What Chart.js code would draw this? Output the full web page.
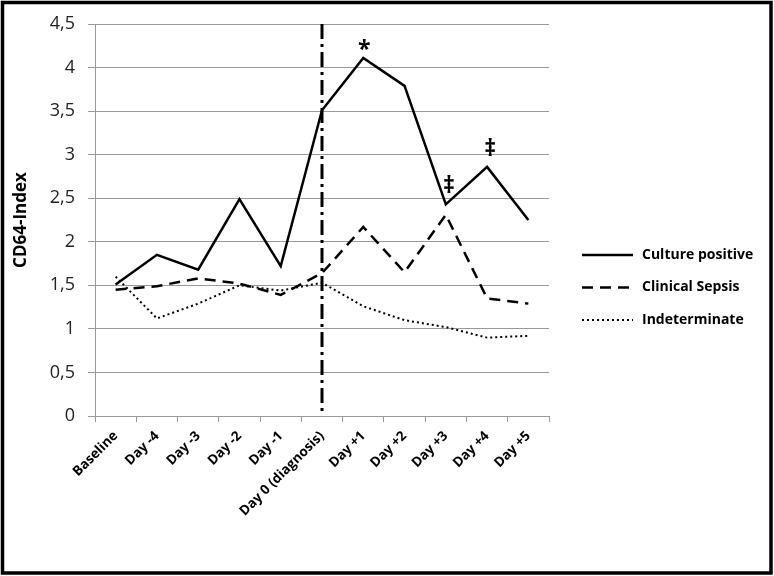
<!DOCTYPE html>
<html>
<head>
<meta charset="utf-8">
<script src="https://cdn.jsdelivr.net/npm/chart.js@4"></script>
<style>
  html, body { margin: 0; padding: 0; background: #fff; }
  canvas { display: block; }
</style>
</head>
<body>
<canvas id="cd64Chart" width="774" height="576"></canvas>
<script>
// data
const categories = ['Baseline', 'Day -4', 'Day -3', 'Day -2', 'Day -1', 'Day 0 (diagnosis)',
                    'Day +1', 'Day +2', 'Day +3', 'Day +4', 'Day +5'];
const culturePositive = [1.51, 1.85, 1.68, 2.49, 1.72, 3.51, 4.11, 3.79, 2.43, 2.86, 2.25];
const clinicalSepsis  = [1.45, 1.49, 1.58, 1.52, 1.39, 1.64, 2.17, 1.65, 2.31, 1.35, 1.29];
const indeterminate   = [1.60, 1.12, 1.29, 1.50, 1.44, 1.53, 1.26, 1.10, 1.02, 0.90, 0.92];
const seriesNames = ['Culture positive', 'Clinical Sepsis', 'Indeterminate'];
const yMin = 0, yMax = 4.5, yStep = 0.5;
const diagnosisIndex = 5;
// significance marks on the culture positive series
const markIndex  = [6, 8, 9];
const markSymbol = ['*', '\u2021', '\u2021'];

const FONT = "'Open Sans', 'DejaVu Sans', sans-serif";
const GRID = '#9a9a9a';

// frame, diagnosis line, marks and legend
const extras = {
    id: 'extras',
    afterDatasetsDraw(chart) {
        const ctx = chart.ctx;
        const area = chart.chartArea;
        const xs = chart.scales.x, ys = chart.scales.y;

        // dash-dot line at diagnosis
        const xd = xs.getPixelForValue(diagnosisIndex);
        ctx.save();
        ctx.strokeStyle = '#000';
        ctx.lineWidth = 3;
        ctx.setLineDash([15, 5, 3, 5]);
        ctx.beginPath();
        ctx.moveTo(xd, area.top);
        ctx.lineTo(xd, area.bottom);
        ctx.stroke();
        ctx.restore();

        // * and double daggers
        ctx.save();
        ctx.fillStyle = '#000';
        ctx.textAlign = 'center';
        ctx.textBaseline = 'bottom';
        markIndex.forEach((idx, i) => {
            const sym = markSymbol[i];
            const px = xs.getPixelForValue(idx);
            const py = ys.getPixelForValue(culturePositive[idx]);
            ctx.font = 'bold 23px ' + FONT;
            ctx.fillText(sym, px + (sym === '*' ? 1 : 3), py + (sym === '*' ? 4 : -6));
        });
        ctx.restore();

        // legend
        ctx.save();
        chart.data.datasets.forEach((ds, i) => {
            const y = 255 + i * 32.5;
            ctx.strokeStyle = '#000';
            ctx.lineWidth = ds.borderWidth;
            ctx.setLineDash(ds.borderDash || []);
            ctx.beginPath();
            ctx.moveTo(582, y);
            ctx.lineTo(633, y);
            ctx.stroke();
            ctx.setLineDash([]);
            ctx.fillStyle = '#000';
            ctx.font = 'bold 14px ' + FONT;
            ctx.textAlign = 'left';
            ctx.textBaseline = 'middle';
            ctx.fillText(ds.label, 642, y);
        });
        ctx.restore();

        // outer frame
        ctx.save();
        ctx.strokeStyle = '#000';
        ctx.lineWidth = 3.5;
        ctx.strokeRect(2.5, 2.5, 768.5, 570.5);
        ctx.restore();
    }
};

new Chart(document.getElementById('cd64Chart').getContext('2d'), {
    type: 'line',
    data: {
        labels: categories,
        datasets: [
            { label: seriesNames[0], data: culturePositive, borderColor: '#000',
              borderWidth: 2.5, borderDash: [], pointRadius: 0, tension: 0 },
            { label: seriesNames[1], data: clinicalSepsis, borderColor: '#000',
              borderWidth: 2.5, borderDash: [11, 7], pointRadius: 0, tension: 0 },
            { label: seriesNames[2], data: indeterminate, borderColor: '#000',
              borderWidth: 2, borderDash: [2, 3], pointRadius: 0, tension: 0 }
        ]
    },
    options: {
        responsive: false,
        animation: false,
        devicePixelRatio: 1,
        layout: { padding: { top: 24, right: 225, left: 0, bottom: 0 } },
        plugins: { legend: { display: false }, tooltip: { enabled: false } },
        scales: {
            x: {
                offset: true,
                afterFit: s => { s.height = 160; },
                grid: { offset: true, drawOnChartArea: false, color: GRID, tickLength: 6 },
                border: { color: GRID, width: 1 },
                ticks: {
                    autoSkip: false, minRotation: 45, maxRotation: 45, padding: 6,
                    color: '#000', font: { family: FONT, size: 13.5, weight: 'bold' }
                }
            },
            y: {
                min: yMin, max: yMax,
                afterFit: s => { s.width = 95; },
                grid: { color: GRID, tickLength: 7 },
                border: { color: GRID, width: 1 },
                ticks: {
                    stepSize: yStep, padding: 13, color: '#222',
                    font: { family: FONT, size: 18 },
                    callback: v => String(v).replace('.', ',')
                },
                title: {
                    display: true, text: 'CD64-Index', color: '#000',
                    font: { family: FONT, size: 17, weight: 'bold' },
                    padding: { top: 11, bottom: 0 }
                }
            }
        }
    },
    plugins: [extras]
});
</script>
</body>
</html>
